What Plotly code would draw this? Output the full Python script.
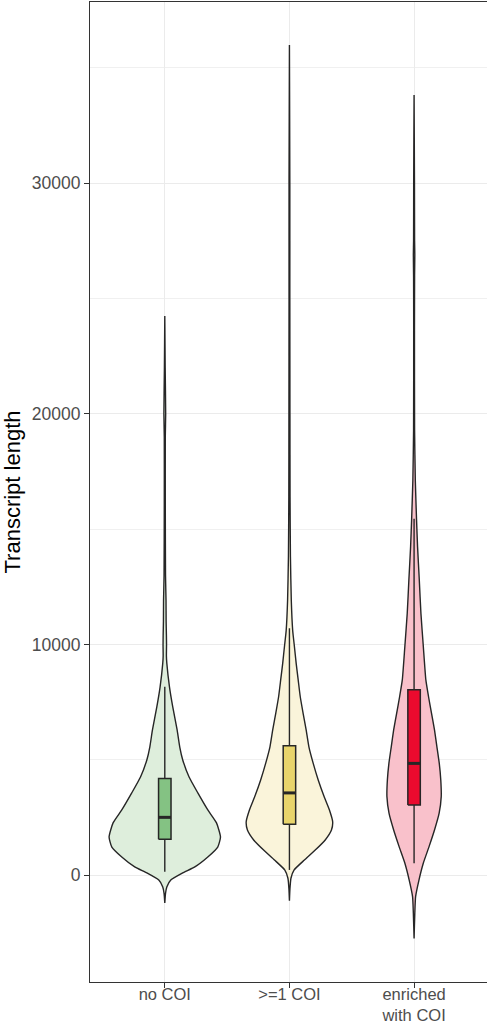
import plotly.graph_objects as go

# Groups of transcripts
categories = ["no COI", ">=1 COI", "enriched<br>with COI"]

# Violin outlines: transcript length vs. scaled kernel density (1 = widest violin)
nocoi_length = [24240, 22000, 20000, 19000, 16000, 13000, 11900, 11000, 10400, 9970,
                9500, 9190, 8150, 7290, 6290, 5550, 4990, 4250, 3560, 2820,
                2260, 1650, 1210, 780, 350, 90, -220, -520, -800, -1210]
nocoi_density = [0, 0.007, 0.016, 0.009, 0.009, 0.013, 0.022, 0.024, 0.029, 0.031,
                 0.029, 0.036, 0.084, 0.142, 0.220, 0.267, 0.320, 0.433, 0.589, 0.767,
                 0.922, 0.993, 0.944, 0.767, 0.536, 0.320, 0.107, 0.036, 0.013, 0]

onecoi_length = [35990, 30000, 25000, 20000, 16400, 13800, 11900, 10600, 9900, 9180,
                 8460, 7730, 7010, 6290, 5560, 4840, 4120, 3400, 2820, 2310,
                 1950, 1520, 1080, 650, 220, -140, -600, -1110]
onecoi_density = [0, 0.007, 0.007, 0.009, 0.011, 0.018, 0.033, 0.058, 0.089, 0.120,
                  0.156, 0.193, 0.244, 0.298, 0.347, 0.424, 0.513, 0.618, 0.713, 0.771,
                  0.749, 0.638, 0.460, 0.267, 0.084, 0.027, 0.009, 0]

enriched_length = [33820, 30100, 27500, 26900, 26000, 23600, 19300, 17100, 15400, 14240,
                   12790, 11350, 9900, 8460, 7730, 7010, 6290, 5560, 4840, 4120,
                   3400, 2680, 1950, 1230, 510, -220, -940, -1660, -2750]
enriched_density = [0, 0.007, 0.009, 0.013, 0.009, 0.007, 0.009, 0.022, 0.044, 0.062,
                    0.093, 0.122, 0.165, 0.210, 0.258, 0.311, 0.364, 0.407, 0.449, 0.476,
                    0.484, 0.447, 0.364, 0.267, 0.164, 0.087, 0.027, 0.013, 0]

# Box-plot statistics per group
box_lower = [140, 220, 510]
box_q1 = [1550, 2200, 3040]
box_median = [2500, 3560, 4840]
box_q3 = [4190, 5610, 8030]
box_upper = [8160, 10700, 15450]

violin_fill = ["#DEEEDC", "#FAF4DA", "#F9C1CB"]
box_fill = ["#84C283", "#E8D46B", "#EB0A2E"]
OUTLINE = "#262626"
VIOLIN_HALF = 0.45
BOX_HALF = 0.05
FONT = "Liberation Sans, Arial, Helvetica, sans-serif"

profiles = [(nocoi_length, nocoi_density),
            (onecoi_length, onecoi_density),
            (enriched_length, enriched_density)]
positions = list(range(len(categories)))

fig = go.Figure()

# Violins: mirrored density outline around each category position
for i, (lengths, dens) in enumerate(profiles):
    left_x = [i - VIOLIN_HALF * d for d in dens]
    right_x = [i + VIOLIN_HALF * d for d in reversed(dens)]
    xs = left_x + right_x + [left_x[0]]
    ys = list(lengths) + list(reversed(lengths)) + [lengths[0]]
    fig.add_trace(go.Scatter(
        x=xs, y=ys, mode="lines", fill="toself",
        fillcolor=violin_fill[i],
        line=dict(color=OUTLINE, width=1.4, shape="spline", smoothing=0.5),
        hoverinfo="skip", showlegend=False,
    ))

# Whiskers (lower fence -> q1, q3 -> upper fence)
wx, wy = [], []
for i in positions:
    wx += [i, i, None, i, i, None]
    wy += [box_lower[i], box_q1[i], None, box_q3[i], box_upper[i], None]
fig.add_trace(go.Scatter(
    x=wx, y=wy, mode="lines", line=dict(color=OUTLINE, width=1.4),
    hoverinfo="skip", showlegend=False,
))

# Interquartile boxes (q1..q3) and thick median bars
for i in positions:
    fig.add_trace(go.Scatter(
        x=[i - BOX_HALF, i + BOX_HALF, i + BOX_HALF, i - BOX_HALF, i - BOX_HALF],
        y=[box_q1[i], box_q1[i], box_q3[i], box_q3[i], box_q1[i]],
        mode="lines", fill="toself", fillcolor=box_fill[i],
        line=dict(color=OUTLINE, width=1.5),
        hoverinfo="skip", showlegend=False,
    ))
    fig.add_trace(go.Scatter(
        x=[i - BOX_HALF, i + BOX_HALF],
        y=[box_median[i], box_median[i]],
        mode="lines", line=dict(color=OUTLINE, width=3),
        hoverinfo="skip", showlegend=False,
    ))

fig.update_layout(
    width=487, height=1026,
    margin=dict(l=90, r=0, t=2, b=44, autoexpand=False),
    paper_bgcolor="white", plot_bgcolor="white",
    font=dict(family=FONT),
    xaxis=dict(
        range=[-0.6, 2.585],
        tickmode="array", tickvals=positions, ticktext=categories,
        tickfont=dict(size=16.5, color="#4D4D4D", family=FONT),
        ticks="outside", ticklen=5, tickwidth=1.2, tickcolor="#333333",
        ticklabelstandoff=-8,
        showgrid=True, gridcolor="#EBEBEB", gridwidth=1.2,
        showline=True, linecolor="#333333", linewidth=1.2, mirror=True,
        zeroline=False, fixedrange=True, automargin=False,
    ),
    yaxis=dict(
        range=[-4640, 37858],
        tickmode="array", tickvals=[0, 10000, 20000, 30000],
        ticktext=["0", "10000", "20000", "30000"],
        tickfont=dict(size=17.5, color="#4D4D4D", family=FONT),
        ticks="outside", ticklen=5, tickwidth=1.2, tickcolor="#333333",
        showgrid=True, gridcolor="#EBEBEB", gridwidth=1.2,
        minor=dict(tickvals=[5000, 15000, 25000, 35000], showgrid=True,
                   gridcolor="#F0F0F0", gridwidth=0.8, ticks=""),
        showline=True, linecolor="#333333", linewidth=1.2, mirror=False,
        zeroline=False, fixedrange=True,
        title=dict(text="Transcript length", standoff=6,
                   font=dict(size=22, color="black", family=FONT)),
        automargin=False,
    ),
)

fig.write_html("out.html")
